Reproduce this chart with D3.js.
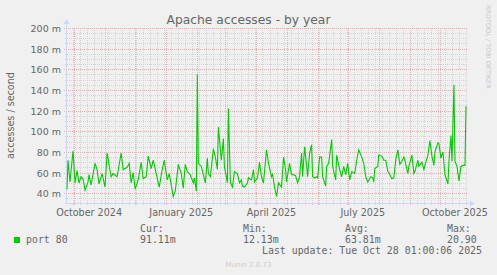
<!DOCTYPE html>
<html>
<head>
<meta charset="utf-8">
<script src="https://cdn.jsdelivr.net/npm/d3@7"></script>
<style>
  body { margin: 0; background: #f0f0f0; }
  text { font-family: "DejaVu Sans", sans-serif; fill: #666666; }
  .mono { font-family: "DejaVu Sans Mono", monospace; font-size: 9.9px; }
</style>
</head>
<body>
<svg id="chart" width="497" height="275"></svg>
<script>

// daily averages, in milli-accesses per second
var dates = [
  "2024-09-24","2024-09-25","2024-09-27","2024-09-30","2024-10-02","2024-10-04","2024-10-06","2024-10-08",
  "2024-10-10","2024-10-12","2024-10-15","2024-10-16","2024-10-18","2024-10-22","2024-10-24","2024-10-26",
  "2024-10-29","2024-11-01","2024-11-03","2024-11-07","2024-11-09","2024-11-13","2024-11-17","2024-11-19",
  "2024-11-23","2024-11-25","2024-11-27","2024-11-29","2024-12-01","2024-12-04","2024-12-07","2024-12-09",
  "2024-12-12","2024-12-14","2024-12-17","2024-12-19","2024-12-22","2024-12-25","2024-12-28","2024-12-30",
  "2025-01-02","2025-01-04","2025-01-08","2025-01-10","2025-01-13","2025-01-16","2025-01-18","2025-01-20",
  "2025-01-22","2025-01-25","2025-01-28","2025-01-29","2025-01-31","2025-02-01","2025-02-02","2025-02-05",
  "2025-02-07","2025-02-09","2025-02-11","2025-02-12","2025-02-14","2025-02-17","2025-02-19","2025-02-21",
  "2025-02-22","2025-02-25","2025-02-27","2025-02-28","2025-03-03","2025-03-04","2025-03-06","2025-03-08",
  "2025-03-10","2025-03-13","2025-03-15","2025-03-17","2025-03-18","2025-03-20","2025-03-23","2025-03-24",
  "2025-03-27","2025-03-29","2025-03-30","2025-04-02","2025-04-04","2025-04-06","2025-04-08","2025-04-11",
  "2025-04-13","2025-04-16","2025-04-17","2025-04-19","2025-04-21","2025-04-23","2025-04-26","2025-04-28",
  "2025-04-30","2025-05-01","2025-05-04","2025-05-06","2025-05-08","2025-05-10","2025-05-12","2025-05-14",
  "2025-05-16","2025-05-17","2025-05-19","2025-05-21","2025-05-22","2025-05-24","2025-05-26","2025-05-27",
  "2025-05-29","2025-05-31","2025-06-01","2025-06-03","2025-06-05","2025-06-06","2025-06-09","2025-06-10",
  "2025-06-12","2025-06-15","2025-06-16","2025-06-19","2025-06-20","2025-06-23","2025-06-25","2025-06-27",
  "2025-06-29","2025-07-01","2025-07-03","2025-07-05","2025-07-08","2025-07-10","2025-07-12","2025-07-15",
  "2025-07-17","2025-07-19","2025-07-21","2025-07-24","2025-07-26","2025-07-27","2025-07-28","2025-07-31",
  "2025-08-01","2025-08-04","2025-08-06","2025-08-08","2025-08-10","2025-08-11","2025-08-14","2025-08-16",
  "2025-08-18","2025-08-20","2025-08-22","2025-08-24","2025-08-26","2025-08-27","2025-08-30","2025-08-31",
  "2025-09-03","2025-09-05","2025-09-06","2025-09-09","2025-09-10","2025-09-13","2025-09-15","2025-09-16",
  "2025-09-19","2025-09-21","2025-09-23","2025-09-25","2025-09-26","2025-09-29","2025-09-30","2025-10-02",
  "2025-10-04","2025-10-06","2025-10-09","2025-10-10","2025-10-12","2025-10-13","2025-10-15","2025-10-16",
  "2025-10-18","2025-10-20","2025-10-22","2025-10-24","2025-10-26","2025-10-27"
];
var accesses = [
  44, 72, 51, 81, 50, 62, 50, 56,
  54, 43, 51, 58, 48, 69, 63, 49,
  59, 46, 79, 56, 59, 56, 79, 63,
  65, 69, 50, 60, 44, 53, 70, 54,
  56, 76, 64, 72, 59, 46, 63, 72,
  53, 59, 37, 42, 68, 59, 45, 68,
  61, 58, 50, 55, 42, 155.5, 69, 66,
  58, 50, 74, 59, 56, 83, 75, 63,
  104, 72, 93, 66, 50, 122, 50, 46,
  61, 59, 50, 53, 47, 46, 50, 55,
  53, 63, 51, 55, 70, 56, 50, 82,
  69, 56, 59, 46, 37, 50, 46, 75,
  63, 51, 69, 58, 58, 57, 50, 56,
  79, 56, 85, 67, 56, 79, 87, 56,
  55, 56, 55, 75, 75, 56, 47, 66,
  69, 92, 66, 53, 77, 63, 56, 66,
  58, 69, 53, 61, 59, 72, 82, 75,
  69, 56, 51, 56, 55, 51, 64, 66,
  77, 76, 72, 72, 61, 60, 54, 55,
  73, 82, 68, 71, 75, 72, 59, 66,
  77, 59, 61, 72, 66, 70, 63, 67,
  77, 91, 76, 67, 80, 89, 88, 74,
  80, 58, 49, 71, 96, 71, 145, 71,
  66, 52, 66, 67, 67, 124.5
];

var yTicks = [40, 60, 80, 100, 120, 140, 160, 180, 200];
var xLabels = ["October 2024", "January 2025", "April 2025", "July 2025", "October 2025"];
var xLabelDates = ["2024-10-16", "2025-01-16", "2025-04-16", "2025-07-16", "2025-10-16"];

var legendHeads = ["Cur:", "Min:", "Avg:", "Max:"];
var legendValues = ["91.11m", "12.13m", "63.81m", "20.90"];
var legendX = [140, 243, 345, 447];

var parse = d3.utcParse("%Y-%m-%d");
var points = dates.map(function(d, i) { return { date: parse(d), value: accesses[i] }; });

var svg = d3.select("#chart");

var plotLeft = 67, plotRight = 467, plotTop = 28, plotBottom = 203;
var start = parse("2024-09-24"), end = parse("2025-10-28");

var x = d3.scaleUtc().domain([start, end]).range([plotLeft, plotRight]);
var y = d3.scaleLinear().domain([30.6, 200]).range([plotBottom, plotTop]);

function px(v) { return Math.round(v) + 0.5; }

var minorColor = "#d4d4d4", majorColor = "#ecb2b2";

// minor grid: every 5 m and every week
var grid = svg.append("g");
d3.range(35, 201, 5).filter(function(v) { return v % 20 != 0; }).forEach(function(v) {
    grid.append("line")
        .attr("x1", plotLeft - 2).attr("x2", plotRight)
        .attr("y1", px(y(v))).attr("y2", px(y(v)))
        .attr("stroke", minorColor).attr("stroke-dasharray", "1,1");
});
d3.utcMonday.range(start, end).forEach(function(d) {
    grid.append("line")
        .attr("x1", px(x(d))).attr("x2", px(x(d)))
        .attr("y1", plotTop).attr("y2", plotBottom + 3)
        .attr("stroke", minorColor).attr("stroke-dasharray", "1,1");
});

// major grid: every 20 m and every month
yTicks.forEach(function(v) {
    grid.append("line")
        .attr("x1", plotLeft - 3).attr("x2", plotRight)
        .attr("y1", px(y(v))).attr("y2", px(y(v)))
        .attr("stroke", majorColor).attr("stroke-dasharray", "1,1");
});
d3.utcMonth.range(start, end).forEach(function(d) {
    grid.append("line")
        .attr("x1", px(x(d))).attr("x2", px(x(d)))
        .attr("y1", plotTop).attr("y2", plotBottom + 3)
        .attr("stroke", majorColor).attr("stroke-dasharray", "1,1");
});

// axes, munin style light blue with arrows
svg.append("line")
    .attr("x1", plotLeft - 0.5).attr("x2", plotLeft - 0.5)
    .attr("y1", plotBottom).attr("y2", plotTop - 5)
    .attr("stroke", "#cfd6f8");
svg.append("line")
    .attr("x1", plotLeft - 2).attr("x2", plotRight + 5)
    .attr("y1", plotBottom + 0.5).attr("y2", plotBottom + 0.5)
    .attr("stroke", "#cfd6f8");
svg.append("path")
    .attr("d", "M" + (plotLeft - 3.5) + "," + (plotTop - 4) + "L" + (plotLeft + 2.5) + "," + (plotTop - 4) +
        "L" + (plotLeft - 0.5) + "," + (plotTop - 9) + "Z")
    .attr("fill", "#cfd6f8");
svg.append("path")
    .attr("d", "M" + (plotRight + 3) + "," + (plotBottom - 2.5) + "L" + (plotRight + 3) + "," + (plotBottom + 3.5) +
        "L" + (plotRight + 8) + "," + (plotBottom + 0.5) + "Z")
    .attr("fill", "#cfd6f8");

// tick labels
svg.append("g").selectAll("text")
    .data(yTicks)
    .enter().append("text")
    .attr("x", 61)
    .attr("y", function(d) { return y(d) + 4; })
    .attr("text-anchor", "end")
    .style("font-size", "9.5px")
    .text(function(d) { return d + " m"; });

svg.append("g").selectAll("text")
    .data(xLabels)
    .enter().append("text")
    .attr("x", function(d, i) { return x(parse(xLabelDates[i])); })
    .attr("y", 216)
    .attr("text-anchor", "middle")
    .style("font-size", "9.6px")
    .text(function(d) { return d; });

// the series
var line = d3.line()
    .x(function(d) { return x(d.date); })
    .y(function(d) { return y(d.value); });

svg.append("path")
    .datum(points)
    .attr("d", line)
    .attr("fill", "none")
    .attr("stroke", "#00cc00")
    .attr("stroke-width", 1.1);

// titles
svg.append("text")
    .attr("x", 248.5).attr("y", 24)
    .attr("text-anchor", "middle")
    .style("font-size", "12.3px")
    .text("Apache accesses - by year");

svg.append("text")
    .attr("transform", "translate(14," + ((plotTop + plotBottom) / 2) + ") rotate(-90)")
    .attr("text-anchor", "middle")
    .style("font-size", "9.6px")
    .text("accesses / second");

svg.append("text")
    .attr("transform", "translate(486,5) rotate(90)")
    .style("font-size", "6.5px")
    .style("fill", "#c8c8c8")
    .text("RRDTOOL / TOBI OETIKER");

// legend
svg.append("rect")
    .attr("x", 14).attr("y", 237).attr("width", 6).attr("height", 6)
    .attr("fill", "#00cc00");
svg.append("text").attr("class", "mono").attr("x", 26).attr("y", 243).text("port 80");

legendHeads.forEach(function(h, i) {
    svg.append("text").attr("class", "mono").attr("x", legendX[i]).attr("y", 232).text(h);
    svg.append("text").attr("class", "mono").attr("x", legendX[i]).attr("y", 243).text(legendValues[i]);
});

svg.append("text").attr("class", "mono").attr("x", 262).attr("y", 254)
    .text("Last update: Tue Oct 28 01:00:06 2025");

svg.append("text")
    .attr("x", 248.5).attr("y", 266.5)
    .attr("text-anchor", "middle")
    .style("font-size", "7px")
    .style("fill", "#cccccc")
    .text("Munin 2.0.73");

</script>
</body>
</html>
